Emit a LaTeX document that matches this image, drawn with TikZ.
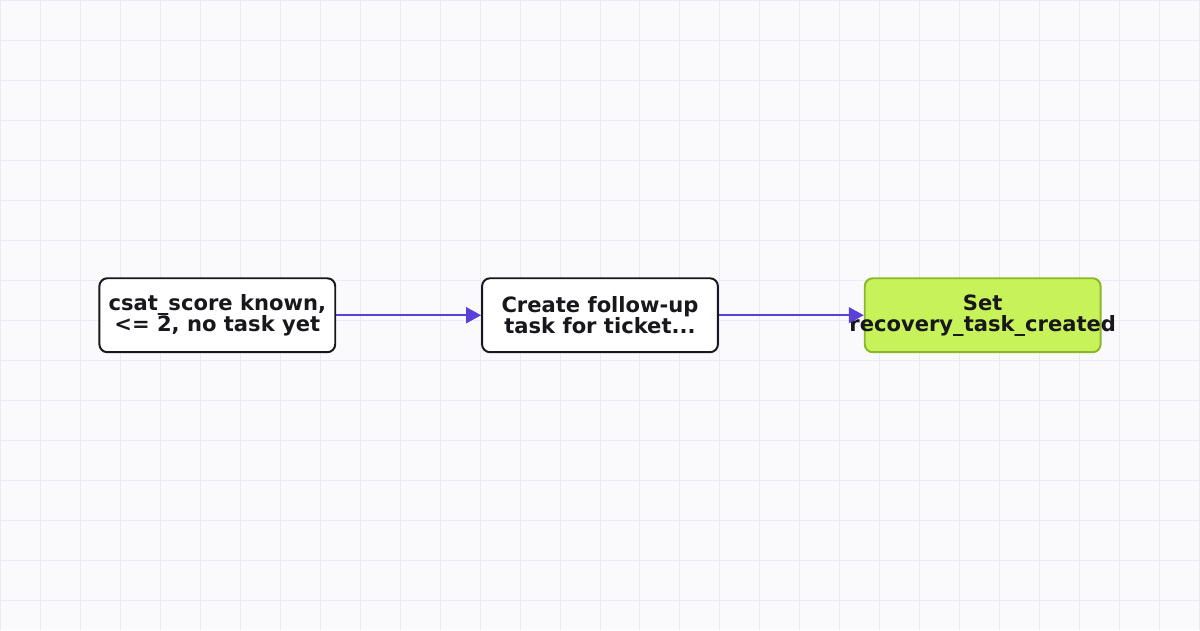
\documentclass[tikz,border=0pt]{standalone}
\usepackage{fontspec}
\setmainfont{DejaVu Sans}
\usetikzlibrary{arrows.meta,positioning}

\definecolor{gridbg}{HTML}{FAFAFD}
\definecolor{gridln}{HTML}{ECEAF7}
\definecolor{edgepurple}{HTML}{5B3FD9}
\definecolor{donefill}{HTML}{C8F25A}
\definecolor{doneline}{HTML}{8AB82A}
\definecolor{boxline}{HTML}{17171C}

\tikzset{
  stepbox/.style={draw=boxline, line width=1.4pt, fill=white, rounded corners=0.2cm,
    minimum width=5.9cm, minimum height=1.85cm, align=center,
    font=\bfseries\fontsize{15}{15}\selectfont, text=boxline},
  donebox/.style={stepbox, draw=doneline, fill=donefill},
  flow/.style={draw=edgepurple, line width=1.4pt, -{Triangle[length=0.375cm,width=0.4cm]}}
}

\begin{document}
\begin{tikzpicture}[x=0.025cm, y=-0.025cm]
    % background grid
    \fill[gridbg] (0,0) rectangle (1200,630);
    \foreach \gx in {0,40,...,1200} \draw[gridln, line width=0.7pt] (\gx,0) -- (\gx,630);
    \foreach \gy in {0,40,...,600} \draw[gridln, line width=0.7pt] (0,\gy) -- (1200,\gy);
    \useasboundingbox (0,0) rectangle (1200,630);
    % steps
    \node[stepbox] (check) at (217,315) {csat\_score known,\\<= 2, no task yet};
    \node[stepbox] (task) at (600,315) {Create follow-up\\task for ticket...};
    \node[donebox] (flag) at (983,315) {Set\\\makebox[0pt]{recovery\_task\_created}};
    \draw[flow] (check) -- (task);
    \draw[flow] (task) -- (flag);
\end{tikzpicture}
\end{document}
